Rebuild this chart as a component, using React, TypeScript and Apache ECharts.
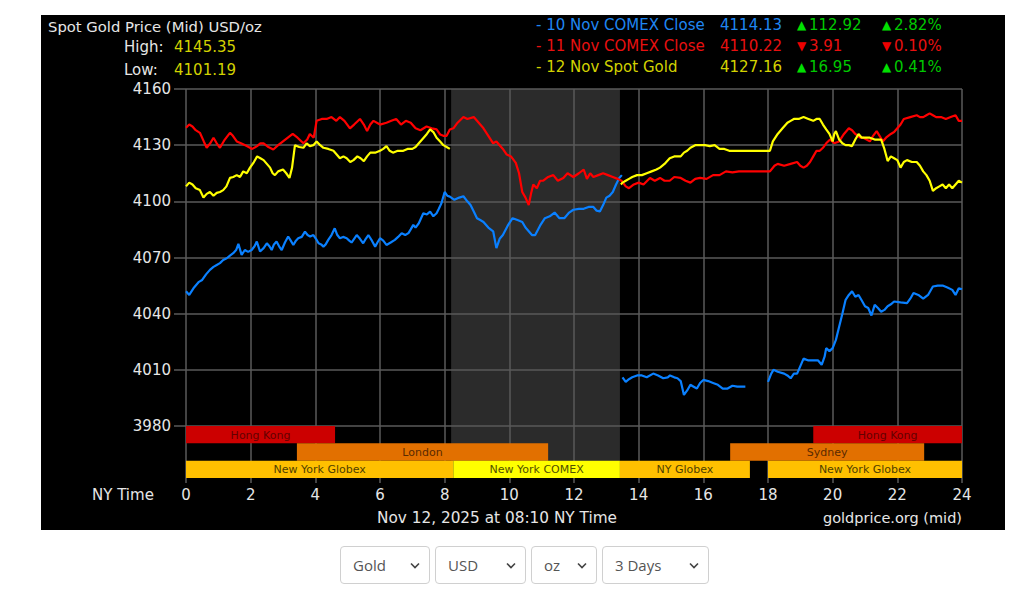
import React, { useEffect, useRef } from "react";
import * as echarts from "echarts";

// ---------- data ----------
const hourMin = 0;
const hourMax = 24;
const hourStep = 2;
const priceMin = 3980;
const priceMax = 4160;
const priceStep = 30;

// [NY hour, price] ; null price = gap in the line
const bluePoints: [number, number | null][] = [
  [0, 4052], [0.1, 4050], [0.25, 4054], [0.4, 4057], [0.5, 4058], [0.62, 4061], [0.74, 4063.4], [0.85, 4065], [0.95, 4066],
  [1.05, 4067], [1.15, 4068.7], [1.26, 4069.6], [1.36, 4071], [1.46, 4072.3], [1.55, 4074], [1.62, 4077.3], [1.72, 4071.4],
  [1.82, 4074], [1.92, 4073], [2.03, 4074], [2.12, 4076], [2.19, 4078.5], [2.29, 4073.2], [2.4, 4075], [2.5, 4077.6],
  [2.58, 4076], [2.65, 4074], [2.72, 4077], [2.8, 4078.5], [2.88, 4076], [2.96, 4074], [3.06, 4078], [3.16, 4081.2],
  [3.24, 4079], [3.32, 4076.7], [3.4, 4079], [3.47, 4080.3], [3.58, 4081], [3.68, 4083.8], [3.76, 4082], [3.84, 4081.2],
  [3.94, 4082], [4.02, 4080], [4.1, 4077.6], [4.18, 4077], [4.25, 4075.8], [4.32, 4077], [4.4, 4079.4], [4.5, 4082],
  [4.6, 4085.6], [4.68, 4082], [4.76, 4080.3], [4.86, 4081], [4.97, 4080.3], [5.05, 4079], [5.12, 4078], [5.2, 4080],
  [5.28, 4082], [5.38, 4080], [5.48, 4077.6], [5.56, 4080], [5.64, 4082], [5.75, 4079], [5.85, 4075.8], [5.92, 4078],
  [6.0, 4080.3], [6.1, 4079], [6.2, 4076.7], [6.33, 4078], [6.46, 4079.4], [6.56, 4081], [6.67, 4083], [6.78, 4082],
  [6.88, 4083], [6.95, 4085], [7.03, 4087.4], [7.1, 4086], [7.2, 4088.3], [7.27, 4091], [7.34, 4093.6], [7.45, 4093],
  [7.55, 4094.5], [7.65, 4092], [7.75, 4093.6], [7.82, 4096], [7.9, 4099], [8.0, 4105], [8.08, 4103], [8.16, 4102.5],
  [8.3, 4100.8], [8.45, 4102], [8.58, 4102.7], [8.7, 4100], [8.8, 4098], [8.9, 4094.6], [9.0, 4091], [9.1, 4090],
  [9.2, 4089], [9.35, 4086], [9.5, 4084], [9.6, 4075], [9.7, 4080], [9.8, 4082], [9.95, 4087], [10.1, 4091], [10.25, 4090],
  [10.4, 4089], [10.5, 4086], [10.6, 4084], [10.7, 4082], [10.8, 4082], [10.95, 4087], [11.1, 4091], [11.25, 4092],
  [11.4, 4094], [11.55, 4091], [11.7, 4091], [11.85, 4094], [11.98, 4095.5], [12.15, 4096], [12.3, 4096], [12.45, 4097],
  [12.6, 4097], [12.7, 4095], [12.8, 4094.6], [12.9, 4098], [13.0, 4102], [13.1, 4103], [13.2, 4105], [13.3, 4109],
  [13.4, 4112.5], [13.48, 4114], [13.49, null],
  [13.5, 4006], [13.6, 4003.6], [13.7, 4005], [13.8, 4006], [13.95, 4007], [14.1, 4007], [14.25, 4006], [14.45, 4008],
  [14.6, 4007], [14.76, 4005.5], [14.9, 4006], [14.97, 4007], [15.1, 4006], [15.2, 4005.5], [15.3, 4004], [15.4, 3996.6],
  [15.5, 3999], [15.6, 4002], [15.7, 4001], [15.8, 4000], [15.9, 4003], [16.0, 4004.6], [16.15, 4004], [16.3, 4003],
  [16.45, 4002], [16.6, 4000], [16.75, 4000], [16.9, 4001.5], [17.05, 4001], [17.2, 4001], [17.3, 4001], [17.6, null],
  [18.0, 4003.6], [18.1, 4008], [18.17, 4010], [18.3, 4009], [18.5, 4008], [18.6, 4007], [18.7, 4005.5], [18.8, 4008],
  [18.9, 4008], [19.0, 4012], [19.1, 4016], [19.25, 4015], [19.4, 4015], [19.55, 4015], [19.66, 4012.7], [19.75, 4017],
  [19.8, 4021.6], [19.9, 4020], [20.0, 4021.6], [20.1, 4026], [20.2, 4033], [20.3, 4040], [20.4, 4047.4], [20.5, 4050],
  [20.6, 4052], [20.7, 4049], [20.8, 4050], [20.9, 4047], [21.0, 4044], [21.1, 4043], [21.2, 4039], [21.3, 4044.7],
  [21.4, 4043], [21.5, 4041], [21.6, 4042], [21.7, 4044], [21.8, 4045], [21.9, 4046.5], [22.1, 4046], [22.3, 4045.6],
  [22.4, 4048], [22.5, 4051], [22.65, 4050], [22.8, 4048], [22.95, 4050], [23.1, 4054.5], [23.25, 4055], [23.4, 4055],
  [23.55, 4054], [23.7, 4052.7], [23.8, 4050], [23.9, 4053.6], [24, 4053],
];

const redHours = [0, 0.1, 0.2, 0.3, 0.43, 0.55, 0.64, 0.75, 0.85, 0.95, 1.05, 1.2, 1.36, 1.45, 1.57, 1.7, 1.88, 2.05, 2.2, 2.3, 2.4, 2.55, 2.7, 2.85, 3.0, 3.15, 3.3, 3.45, 3.63, 3.75, 3.83, 3.95, 4.04, 4.2, 4.35, 4.5, 4.65, 4.76, 4.9, 5.07, 5.2, 5.38, 5.5, 5.6, 5.7, 5.8, 6.0, 6.2, 6.35, 6.5, 6.65, 6.8, 6.95, 7.1, 7.25, 7.44, 7.6, 7.75, 7.86, 7.96, 8.06, 8.16, 8.27, 8.4, 8.58, 8.7, 8.9, 9.0, 9.1, 9.2, 9.35, 9.5, 9.6, 9.7, 9.8, 9.92, 10.05, 10.2, 10.3, 10.4, 10.5, 10.6, 10.67, 10.74, 10.85, 10.95, 11.05, 11.2, 11.36, 11.5, 11.67, 11.8, 11.98, 12.15, 12.3, 12.4, 12.5, 12.6, 12.75, 12.9, 13.05, 13.2, 13.35, 13.47, 13.6, 13.7, 13.85, 14.0, 14.15, 14.35, 14.5, 14.66, 14.8, 14.96, 15.1, 15.3, 15.45, 15.6, 15.75, 15.9, 16.1, 16.3, 16.5, 16.7, 16.9, 17.1, 17.2, 18.06, 18.2, 18.3, 18.5, 18.7, 18.9, 19.0, 19.1, 19.2, 19.3, 19.4, 19.5, 19.6, 19.7, 19.8, 19.92, 20.05, 20.2, 20.35, 20.5, 20.6, 20.7, 20.85, 20.95, 21.05, 21.15, 21.25, 21.36, 21.45, 21.55, 21.65, 21.8, 21.9, 22.0, 22.1, 22.2, 22.4, 22.6, 22.7, 22.8, 22.9, 23.0, 23.1, 23.2, 23.35, 23.5, 23.65, 23.8, 23.9, 24];
const redValues = [4139.3, 4141, 4140, 4138, 4136.6, 4132, 4128.6, 4131, 4134, 4131, 4128.6, 4133, 4136.6, 4135, 4132, 4131, 4129.5, 4128, 4129.5, 4131, 4131, 4129, 4127.7, 4130, 4132, 4134, 4136, 4134, 4131, 4133, 4136, 4134, 4143, 4144, 4144, 4145, 4143, 4145, 4143, 4139, 4141, 4144, 4141, 4137.5, 4141, 4143, 4141, 4142, 4143, 4144, 4141, 4143, 4142, 4139, 4138, 4140, 4139, 4138.4, 4135.7, 4135, 4135, 4138.4, 4139, 4142, 4145, 4144, 4145, 4143, 4141, 4139, 4135, 4131, 4132, 4130, 4128, 4125, 4124, 4120.5, 4115, 4105, 4102, 4098, 4104, 4109, 4107, 4111, 4111, 4113, 4114, 4111, 4112.5, 4115, 4113, 4115, 4117, 4112, 4115, 4113, 4114, 4115, 4114, 4113, 4112, 4111, 4108, 4107, 4109, 4110, 4109, 4112.5, 4111, 4112.5, 4111, 4111, 4113, 4112.5, 4111, 4110, 4112, 4112.5, 4112, 4114, 4114, 4116, 4115.5, 4116, 4116, 4116, 4119, 4120, 4119, 4120, 4121, 4119, 4118, 4119, 4121, 4124, 4127, 4127, 4128.6, 4131, 4133, 4131, 4132, 4136, 4139, 4138, 4136, 4134, 4134, 4133, 4132, 4135, 4137.5, 4135, 4132, 4134, 4136, 4137, 4139, 4141, 4144, 4145, 4146, 4145, 4145, 4146, 4147, 4146, 4145, 4145, 4144, 4145, 4146, 4143, 4143];

const yellowHours = [0, 0.1, 0.2, 0.3, 0.43, 0.54, 0.64, 0.74, 0.85, 0.95, 1.05, 1.15, 1.25, 1.36, 1.46, 1.57, 1.67, 1.77, 1.88, 1.98, 2.1, 2.2, 2.3, 2.4, 2.5, 2.6, 2.68, 2.75, 2.85, 3.0, 3.1, 3.2, 3.28, 3.37, 3.5, 3.63, 3.73, 3.83, 3.94, 4.04, 4.15, 4.25, 4.4, 4.56, 4.66, 4.76, 4.87, 4.97, 5.08, 5.18, 5.3, 5.4, 5.5, 5.6, 5.7, 5.85, 6.0, 6.1, 6.2, 6.3, 6.4, 6.55, 6.72, 6.85, 7.0, 7.1, 7.2, 7.35, 7.45, 7.55, 7.65, 7.75, 7.86, 7.96, 8.06, 8.16, 8.2,
  13.45, 13.5, 13.6, 13.7, 13.8, 13.95, 14.1, 14.25, 14.4, 14.55, 14.66, 14.8, 14.96, 15.1, 15.3, 15.4, 15.5, 15.6, 15.75, 15.9, 16.05, 16.2, 16.35, 16.5, 16.65, 16.8, 17.0, 18.06, 18.15, 18.3, 18.45, 18.6, 18.7, 18.8, 18.95, 19.1, 19.25, 19.4, 19.5, 19.6, 19.7, 19.8, 19.9, 20.0, 20.05, 20.1, 20.2, 20.3, 20.4, 20.5, 20.6, 20.7, 20.8, 20.9, 21.0, 21.15, 21.3, 21.5, 21.6, 21.7, 21.8, 21.9, 22.0, 22.1, 22.2, 22.3, 22.45, 22.6, 22.7, 22.8, 22.9, 23.0, 23.1, 23.2, 23.3, 23.4, 23.5, 23.6, 23.7, 23.8, 23.9, 24];
const yellowValues = [4108, 4110, 4109, 4107, 4106, 4102, 4104, 4105, 4103, 4104.5, 4105, 4106, 4108, 4112.5, 4113, 4114, 4113, 4116, 4115, 4118, 4121, 4124, 4123, 4122, 4120, 4118, 4115, 4114, 4116, 4117, 4115, 4112.5, 4118, 4130, 4129, 4128.6, 4131, 4129.5, 4130, 4132, 4130, 4128.6, 4128, 4127, 4125, 4123, 4124, 4123, 4121, 4122, 4124, 4123, 4121.5, 4124, 4126, 4126, 4127, 4128, 4129.5, 4127, 4126, 4127, 4127, 4128, 4128, 4129, 4131, 4134, 4136, 4138.4, 4137, 4134, 4132, 4130, 4129, 4128, null,
  4109, 4110, 4111, 4112, 4113, 4114, 4114, 4115, 4116, 4117, 4118, 4120, 4123, 4124, 4124, 4126, 4127, 4128.6, 4130, 4130, 4130, 4129.5, 4130, 4128, 4128, 4127, 4127, 4127, 4132, 4136, 4139, 4142, 4143, 4144, 4144, 4145, 4144, 4143, 4144, 4144, 4141, 4138.4, 4136, 4132, 4136, 4137.5, 4133, 4131, 4130, 4130, 4129.5, 4133, 4136, 4134, 4134, 4134, 4133, 4133, 4128, 4121.5, 4124, 4123, 4122, 4118, 4121, 4122, 4121, 4121, 4119, 4116, 4114, 4111, 4105.6, 4107, 4108, 4109, 4107, 4109, 4107, 4109, 4111, 4110];

// trading session bars (rows: 0 = top, 2 = bottom)
const sessionNames = ["Hong Kong", "Hong Kong", "London", "Sydney", "New York Globex", "New York COMEX", "NY Globex", "New York Globex"];
const sessionKinds = ["asia", "asia", "europe", "europe", "globex", "comex", "globex", "globex"];
const sessionStarts = [0, 19.4, 3.43, 16.83, 0, 8.27, 13.42, 18.0];
const sessionEnds = [4.61, 24, 11.2, 22.83, 8.27, 13.42, 17.44, 24];
const sessionRows = [0, 0, 1, 1, 2, 2, 2, 2];

const shadeStart = [8.2];
const shadeEnd = [13.42];

// header
const chartTitle = "Spot Gold Price (Mid) USD/oz";
const highLabel = "High:";
const highValue = "4145.35";
const lowLabel = "Low:";
const lowValue = "4101.19";
const legendNames = ["- 10 Nov COMEX Close", "- 11 Nov COMEX Close", "- 12 Nov Spot Gold"];
const legendCloses = ["4114.13", "4110.22", "4127.16"];
const legendChanges = ["112.92", "3.91", "16.95"];
const legendPcts = ["2.82%", "0.10%", "0.41%"];
const legendUp = [true, false, true];
const axisTitle = "NY Time";
const timestamp = "Nov 12, 2025 at 08:10 NY Time";
const sourceText = "goldprice.org (mid)";

const selectOptions = [
  ["Gold", "Silver"],
  ["USD", "EUR"],
  ["oz", "g"],
  ["3 Days", "24 Hours"],
];

// ---------- styles ----------
const FONT = "DejaVu Sans";
const lineColors = ["#0a80ff", "#ff0000", "#ffff00"];
const legendTextColors = ["#1f86f2", "#e81010", "#d2d200"];
const sessionStyle: Record<string, { fill: string; text: string }> = {
  asia: { fill: "#cc0000", text: "#640000" },
  europe: { fill: "#e27000", text: "#5a2a00" },
  globex: { fill: "#ffc000", text: "#504000" },
  comex: { fill: "#ffff00", text: "#505000" },
};

const zip = (hs: number[], vs: (number | null)[]) => hs.map((h, i) => [h, vs[i]] as [number, number | null]);
const toLine = (pts: [number, number | null][]) => pts.map(([h, v]) => [h, v === null ? "-" : v]);

function Chart() {
  const ref = useRef<HTMLDivElement>(null);
  useEffect(() => {
    if (!ref.current) return;
    const chart = echarts.init(ref.current, null, { renderer: "svg" });
    const gridLine = { show: true, lineStyle: { color: "#5a5a5a", width: 1.5 } };

    const texts: any[] = [];
    const t = (text: string, x: number, y: number, fill: string, size = 15, align = "left") =>
      texts.push({
        type: "text",
        x,
        y,
        silent: true,
        style: { text, fill, font: `${size}px "${FONT}"`, align, verticalAlign: "middle" },
      });
    t(chartTitle, 7, 11, "#e6e6e6", 14.8);
    t(highLabel, 83, 32, "#e6e6e6");
    t(highValue, 133, 32, "#d2d200");
    t(lowLabel, 83, 55, "#e6e6e6");
    t(lowValue, 133, 55, "#d2d200");
    const rowsY = [10, 31, 52];
    legendNames.forEach((n, i) => {
      const y = rowsY[i];
      const arrowColor = legendUp[i] ? "#00e000" : "#ee0000";
      const numColor = legendUp[i] ? "#00c800" : "#e81010";
      const arrow = legendUp[i] ? "▲" : "▼";
      t(n, 495, y, legendTextColors[i]);
      t(legendCloses[i], 679, y, legendTextColors[i]);
      t(arrow, 756, y, arrowColor, 12);
      t(legendChanges[i], 768, y, numColor);
      t(arrow, 841, y, arrowColor, 12);
      t(legendPcts[i], 853, y, numColor);
    });
    t(axisTitle, 51, 480, "#e6e6e6");
    t(timestamp, 336, 503, "#e6e6e6", 15.3);
    t(sourceText, 921, 503, "#e6e6e6", 14.5, "right");

    const shadeRender = (params: any, api: any) => {
      const cs = params.coordSys;
      const x1 = api.coord([api.value(0), api.value(2)])[0];
      const x2 = api.coord([api.value(1), api.value(2)])[0];
      return {
        type: "rect",
        shape: { x: x1, y: cs.y, width: x2 - x1, height: cs.height },
        style: { fill: "#2b2b2b" },
      };
    };

    chart.setOption({
      animation: false,
      backgroundColor: "#000",
      grid: [
        { left: 145, top: 74, width: 776, height: 337 },
        { left: 145, top: 411, width: 776, height: 52 },
      ],
      xAxis: [
        {
          type: "value", gridIndex: 0, min: hourMin, max: hourMax, interval: hourStep,
          axisLabel: { show: false }, axisTick: { show: false }, axisLine: { show: false },
          splitLine: gridLine,
        },
        {
          type: "value", gridIndex: 1, min: hourMin, max: hourMax, interval: hourStep,
          axisLabel: { color: "#e6e6e6", fontFamily: FONT, fontSize: 15, margin: 9 },
          axisTick: { show: true, length: 5, lineStyle: { color: "#5a5a5a", width: 1.5 } },
          axisLine: { show: false },
          splitLine: gridLine,
        },
      ],
      yAxis: [
        {
          type: "value", gridIndex: 0, min: priceMin, max: priceMax, interval: priceStep,
          axisLabel: {
            color: "#e6e6e6", fontFamily: FONT, fontSize: 15, margin: 15,
            formatter: (v: number) => String(v),
          },
          axisTick: { show: true, length: 12, lineStyle: { color: "#5a5a5a", width: 1.5 } },
          axisLine: { show: false },
          splitLine: gridLine,
        },
        {
          type: "value", gridIndex: 1, min: 0, max: 3,
          axisLabel: { show: false }, axisTick: { show: false }, axisLine: { show: false },
          splitLine: { show: false },
        },
      ],
      graphic: texts,
      series: [
        {
          type: "custom", xAxisIndex: 0, yAxisIndex: 0, z: -1, silent: true,
          encode: { x: [0, 1], y: 2 },
          data: shadeStart.map((s, i) => [s, shadeEnd[i], priceMin]),
          renderItem: shadeRender,
        },
        {
          type: "custom", xAxisIndex: 1, yAxisIndex: 1, z: -1, silent: true,
          encode: { x: [0, 1], y: 2 },
          data: shadeStart.map((s, i) => [s, shadeEnd[i], 0]),
          renderItem: shadeRender,
        },
        {
          type: "custom", xAxisIndex: 1, yAxisIndex: 1, silent: true, clip: false,
          encode: { x: [0, 1], y: 2 },
          data: sessionNames.map((_, i) => [sessionStarts[i], sessionEnds[i], sessionRows[i]]),
          renderItem: (params: any, api: any) => {
            const i = params.dataIndex;
            const row = api.value(2);
            const p1 = api.coord([api.value(0), 3 - row]);
            const p2 = api.coord([api.value(1), 2 - row]);
            const st = sessionStyle[sessionKinds[i]];
            return {
              type: "group",
              children: [
                {
                  type: "rect",
                  shape: { x: p1[0], y: p1[1], width: p2[0] - p1[0], height: p2[1] - p1[1] },
                  style: { fill: st.fill },
                },
                {
                  type: "text",
                  x: (p1[0] + p2[0]) / 2,
                  y: (p1[1] + p2[1]) / 2 + 0.5,
                  style: {
                    text: sessionNames[i], fill: st.text, font: `11px "${FONT}"`,
                    align: "center", verticalAlign: "middle",
                  },
                },
              ],
            };
          },
        },
        ...[bluePoints, zip(redHours, redValues), zip(yellowHours, yellowValues)].map((pts, i) => ({
          type: "line",
          xAxisIndex: 0,
          yAxisIndex: 0,
          showSymbol: false,
          symbol: "none",
          silent: true,
          connectNulls: false,
          lineStyle: { color: lineColors[i], width: 2.2 },
          data: toLine(pts),
        })),
      ],
    });
    return () => chart.dispose();
  }, []);
  return (
    <div
      ref={ref}
      style={{ position: "absolute", left: 41, top: 15, width: 964, height: 515, background: "#000" }}
    />
  );
}

const chevron =
  "url(\"data:image/svg+xml;utf8,<svg xmlns='http://www.w3.org/2000/svg' width='10' height='7'><path d='M1 1.5l4 4 4-4' stroke='%23444' stroke-width='1.6' fill='none'/></svg>\")";

const selectBoxes = [
  { left: 340, width: 90 },
  { left: 435, width: 91 },
  { left: 531, width: 66 },
  { left: 602, width: 107 },
];

export default function App() {
  return (
    <div style={{ position: "absolute", left: 0, top: 0, width: 1024, height: 595, background: "#fff" }}>
      <Chart />
      {selectOptions.map((opts, i) => (
        <select
          key={i}
          defaultValue={opts[0]}
          style={{
            position: "absolute",
            left: selectBoxes[i].left,
            top: 546,
            width: selectBoxes[i].width,
            height: 38,
            boxSizing: "border-box",
            border: "1px solid #d0d0d0",
            borderRadius: 4,
            background: "#fff",
            backgroundImage: chevron,
            backgroundRepeat: "no-repeat",
            backgroundPosition: "right 9px center",
            appearance: "none",
            WebkitAppearance: "none",
            fontFamily: '"Open Sans"',
            fontSize: 15,
            color: "#555",
            paddingLeft: 12,
            outline: "none",
          }}
        >
          {opts.map((o) => (
            <option key={o}>{o}</option>
          ))}
        </select>
      ))}
    </div>
  );
}
